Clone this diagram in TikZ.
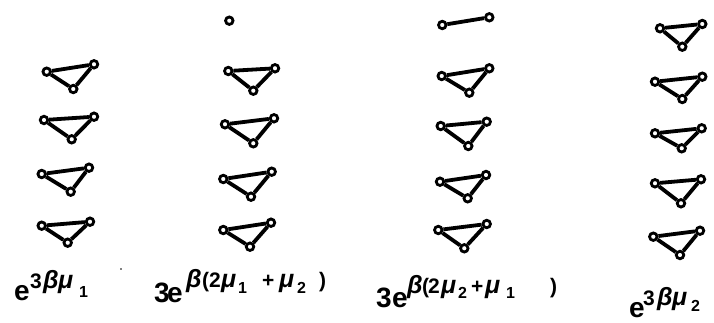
\documentclass[tikz,border=0pt]{standalone}
\usepackage{fontspec}
\setmainfont{Liberation Sans}
\newcommand\sz[1]{\fontsize{#1}{#1}\selectfont}
\newcommand\g[2]{\makebox[#1pt][l]{#2}}
\newcommand\gr[2]{\makebox[#1pt][l]{\sz{25}\itshape #2}}
\newcommand\up[2]{\raisebox{#1pt}{#2}}
\tikzset{
  v/.style={circle,draw,line width=2.8pt,minimum size=7.5pt,inner sep=0pt,fill=white},
  ed/.style={line width=3.8pt},
  lab/.style={anchor=base west,inner sep=0pt,font=\sz{28}\bfseries}
}
\newcommand\tri[4]{%
  \node[v] (#1l) at #2 {};
  \node[v] (#1r) at #3 {};
  \node[v] (#1b) at #4 {};
  \draw[ed] (#1l) -- (#1r) (#1r) -- (#1b) (#1b) -- (#1l);
}
\begin{document}
\begin{tikzpicture}[x=1pt,y=-1pt]
\useasboundingbox (0,0) rectangle (714,323);
% column 1
\tri{a1}{(46.7,71.7)}{(94,64.3)}{(73.3,89)}
\tri{a2}{(44,120)}{(94,116.7)}{(71.7,139.3)}
\tri{a3}{(41.7,174)}{(89,167.7)}{(70.7,191.7)}
\tri{a4}{(41.7,225.7)}{(90,221.7)}{(67.7,242.7)}
% column 2
\node[v] (b0) at (229.3,20.7) {};
\tri{b1}{(228.3,71)}{(275,68.3)}{(253.3,90.7)}
\tri{b2}{(225,124.3)}{(274,118.3)}{(253.3,143.3)}
\tri{b3}{(223.3,179)}{(271.7,171.7)}{(251,196.7)}
\tri{b4}{(223.3,230)}{(271,222.7)}{(250,246.7)}
% column 3
\node[v] (c0l) at (442.3,25) {};
\node[v] (c0r) at (489.3,17.3) {};
\draw[ed] (c0l) -- (c0r);
\tri{c1}{(441.7,76)}{(489.3,68.3)}{(469.3,92.7)}
\tri{c2}{(440.7,126)}{(486.7,121.7)}{(468.3,146)}
\tri{c3}{(440,181.7)}{(486,175)}{(467.7,198.3)}
\tri{c4}{(438.3,230)}{(486.7,224)}{(464.3,248.3)}
% column 4
\tri{d1}{(660,28.3)}{(702.3,24)}{(682.3,46.7)}
\tri{d2}{(655,81.7)}{(702.3,76.7)}{(682.3,99)}
\tri{d3}{(655,133.3)}{(701.7,128.3)}{(681.7,148.3)}
\tri{d4}{(655,183.3)}{(701,179.3)}{(681,203.3)}
\tri{d5}{(653.3,236.7)}{(700,230.7)}{(680,255)}
% labels
\node[lab] (l1) at (14,300) {\g{16}{e}\up{12}{\sz{21}\g{13}{3}\gr{15}{β}\gr{21}{μ}}\up{3}{\sz{16}1}};
\node[lab] (l2) at (154,302) {\g{13}{3}\g{19}{e}\up{15}{\sz{21}\gr{16}{β}\g{7}{(}\g{12}{2}\gr{17}{μ}}\up{9}{\sz{16}\g{24}{1}}\up{15}{\sz{21}\g{17}{+}\gr{18}{μ}}\up{9}{\sz{16}\g{22}{2}}\up{15}{\sz{21})}};
\node[lab] (l3) at (376,307) {\g{16}{3}\g{15}{e}\up{14}{\sz{21}\gr{15}{β}\g{6}{(}\g{13}{2}\gr{17}{μ}}\up{9}{\sz{16}\g{13}{2}}\up{14}{\sz{21}\g{14}{+}\gr{21}{μ}}\up{9}{\sz{16}\g{44}{1}}\up{14}{\sz{21})}};
\node[lab] (l4) at (629,317) {\g{14}{e}\up{12}{\sz{21}\g{14}{3}\gr{15}{β}\gr{19}{μ}}\up{6}{\sz{16}2}};
\fill (121,269) circle (0.9pt);
\end{tikzpicture}
\end{document}
